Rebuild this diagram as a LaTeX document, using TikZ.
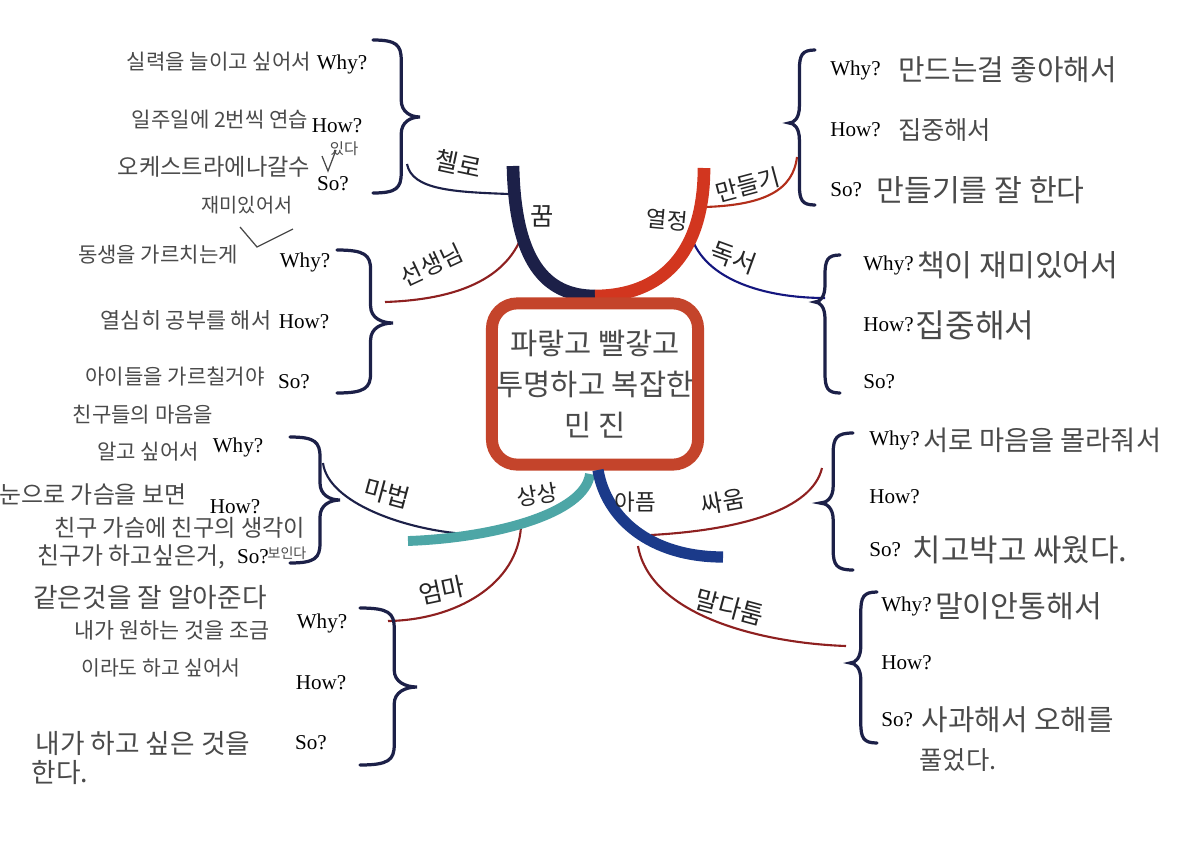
\documentclass[tikz,border=0pt]{standalone}
\usepackage{fontspec}
\setmainfont{Liberation Serif}
\newfontfamily\kr{Noto Sans CJK KR}
\usetikzlibrary{positioning}

\definecolor{navy}{HTML}{1C2048}
\definecolor{fire}{HTML}{D2361F}
\definecolor{seagreen}{HTML}{4DA6A6}
\definecolor{deepblue}{HTML}{1B3A8A}
\definecolor{boxred}{HTML}{C4442B}
\definecolor{wine}{HTML}{8E2020}
\definecolor{pencil}{HTML}{4A4A4A}

\begin{document}
\begin{tikzpicture}[x=0.025cm,y=-0.025cm,
    qa/.style={font=\fontsize{15}{17}\selectfont,inner sep=0pt},
    hand/.style={font=\kr\fontsize{#1}{#1}\selectfont,text=pencil,inner sep=0pt},
    hand/.default=15,
    tag/.style={font=\kr\fontsize{#1}{#1}\selectfont,text=black!85,inner sep=0pt},
    tag/.default=17,
    limb/.style={line width=9pt},
    twig/.style={line width=1.5pt},
    curly/.style={navy,line width=2.3pt,line cap=round}]
  \path[use as bounding box,fill=white] (0,0) rectangle (1204,863);

  % sub branches
  \coordinate (dream-a) at (509,194);
  \coordinate (dream-b) at (523,233);
  \coordinate (passion-a) at (705,207);
  \coordinate (passion-b) at (691,236);
  \coordinate (imagine-a) at (466,534);
  \coordinate (imagine-b) at (521,526);
  \coordinate (pain-a) at (651,535);
  \coordinate (pain-b) at (638,546);
  \coordinate (cello-end) at (407,164);
  \coordinate (teacher-end) at (385,302);
  \coordinate (making-end) at (797,157);
  \coordinate (reading-end) at (825,298);
  \coordinate (magic-end) at (323,463);
  \coordinate (mom-end) at (388,621);
  \coordinate (fight-end) at (822,468);
  \coordinate (quarrel-end) at (846,646);
  \draw[navy,twig] (dream-a) .. controls +(-55,-2) and +(5,26) .. (cello-end);
  \draw[wine,twig] (dream-b) .. controls +(-18,52) and +(60,-2) .. (teacher-end);
  \draw[fire!85!black,twig] (passion-a) .. controls +(60,-2) and +(-4,33) .. (making-end);
  \draw[navy!70!blue,twig] (passion-b) .. controls +(14,44) and +(-60,0) .. (reading-end);
  \draw[navy,twig] (imagine-a) .. controls +(-60,-4) and +(5,40) .. (magic-end);
  \draw[wine,twig] (imagine-b) .. controls +(-3,59) and +(67,-1) .. (mom-end);
  \draw[wine,twig] (pain-a) .. controls +(89,-5) and +(-10,42) .. (fight-end);
  \draw[wine,twig] (pain-b) .. controls +(12,69) and +(-86,-3) .. (quarrel-end);

  % main branches and centre
  \coordinate (crown) at (595,296);
  \coordinate (dream) at (513,166);
  \coordinate (passion) at (704,168);
  \draw[navy,limb] (dream) .. controls +(2,95) and +(-50,0) .. (crown);
  \draw[fire,limb] (crown) .. controls +(65,0) and +(0,87) .. (passion);
  \node[draw=boxred,line width=8.5pt,rounded corners=18pt,fill=white,
        minimum width=5.1cm,minimum height=4.03cm,align=center,
        font=\kr\fontsize{21}{29}\selectfont,text=pencil] (core) at (595,384)
        {파랗고 빨갛고\\투명하고 복잡한\\민 진};
  \coordinate (root) at (590,474);
  \coordinate (root2) at (598,470);
  \coordinate (imagine) at (408,541);
  \coordinate (pain) at (723,557);
  \draw[seagreen,line width=7pt] (root) .. controls +(-5,40) and +(85,-3) .. (imagine);
  \draw[deepblue,line width=8pt] (root2) .. controls +(8,48) and +(-73,0) .. (pain);

  % branch words
  \node[tag=18] (dream-tag) at (542,216) {꿈};
  \node[tag=16,rotate=-5] (passion-tag) at (667,220) {열정};
  \node[tag=16,rotate=10] (imagine-tag) at (537,495) {상상};
  \node[tag=16] (pain-tag) at (635,502) {아픔};
  \node[tag=18,rotate=-12] (cello) at (458,164) {첼로};
  \node[tag,rotate=25] (teacher) at (432,265) {선생님};
  \node[tag,rotate=15] (making) at (748,185) {만들기};
  \node[tag=18,rotate=-20] (reading) at (734,258) {독서};
  \node[tag=18,rotate=-15] (magic) at (387,493) {마법};
  \node[tag=18,rotate=12] (mom) at (442,590) {엄마};
  \node[tag,rotate=10] (fight) at (723,502) {싸움};
  \node[tag=18,rotate=-15] (quarrel) at (730,607) {말다툼};

  % braces: ends at x, tip at x+w, height ym
  \foreach \x/\ya/\yb/\ym/\w in {373/40/193/117/47,337/250/393/323/56,290/437/563/500/50,360/608/765/687/57,
                                 815/50/205/123/-26,840/255/393/302/-25,853/433/570/503/-33,877/592/743/663/-27} {
    \pgfmathsetmacro\xa{\x+0.6*\w}
    \draw[curly] (\x,\ya) .. controls ({\x+0.5*\w},\ya) and (\xa,{\ya+5}) .. (\xa,{\ya+20})
      -- (\xa,{\ym-17}) .. controls (\xa,{\ym-5}) and ({\x+0.8*\w},\ym) .. ({\x+\w},\ym)
      .. controls ({\x+0.8*\w},\ym) and (\xa,{\ym+5}) .. (\xa,{\ym+17})
      -- (\xa,{\yb-20}) .. controls (\xa,{\yb-5}) and ({\x+0.5*\w},\yb) .. (\x,\yb);
  }

  % cello
  \foreach \x/\y/\q/\n in {342/64/Why?/why,337/126/How?/how,333/184/So?/so}
    \node[qa] (cello-\n) at (\x,\y) {\q};
  \node[hand] (cello-t1) at (219,62) {실력을 늘이고 싶어서};
  \node[hand] (cello-t2) at (220,120) {일주일에 2번씩 연습};
  \node[hand=16.5] (cello-t3) at (214,167) {오케스트라에나갈수};
  \node[hand=11] (cello-t4) at (344,149) {있다};
  \draw[pencil,line width=.9pt] (322,156) -- (328,171) -- (336,150);
  \node[hand=14] (cello-t5) at (247,205) {재미있어서};
  \draw[pencil,line width=.9pt] (240,227) -- (257,247) -- (293,229);

  % teacher
  \foreach \x/\y/\q/\n in {305/262/Why?/why,304/322/How?/how,294/382/So?/so}
    \node[qa] (teacher-\n) at (\x,\y) {\q};
  \node[hand] (teacher-t1) at (158,255) {동생을 가르치는게};
  \node[hand=15.5] (teacher-t2) at (186,320) {열심히 공부를 해서};
  \node[hand] (teacher-t3) at (175,377) {아이들을 가르칠거야};

  % magic
  \foreach \x/\y/\q/\n in {238/447/Why?/why,235/507/How?/how,253/557/So?/so}
    \node[qa] (magic-\n) at (\x,\y) {\q};
  \node[hand] (magic-t1) at (143,415) {친구들의 마음을};
  \node[hand] (magic-t2) at (148,452) {알고 싶어서};
  \node[hand=17] (magic-t3) at (93,495) {눈으로 가슴을 보면};
  \node[hand=16.5] (magic-t4) at (180,528) {친구 가슴에 친구의 생각이};
  \node[hand=17] (magic-t5) at (131,557) {친구가 하고싶은거,};
  \node[hand=10] (magic-t6) at (287,553) {보인다};
  \node[hand=19] (magic-t7) at (150,597) {같은것을 잘 알아준다};

  % mom
  \foreach \x/\y/\q/\n in {322/623/Why?/why,321/683/How?/how,311/743/So?/so}
    \node[qa] (mom-\n) at (\x,\y) {\q};
  \node[hand=15.5] (mom-t1) at (172,630) {내가 원하는 것을 조금};
  \node[hand=14.5] (mom-t2) at (161,668) {이라도 하고 싶어서};
  \node[hand=19] (mom-t3) at (143,743) {내가 하고 싶은 것을};
  \node[hand=19] (mom-t4) at (60,772) {한다.};

  % making
  \node[qa,anchor=west] (making-why) at (830,70) {Why?};
  \node[qa,anchor=west] (making-how) at (830,130) {How?};
  \node[qa,anchor=west] (making-so) at (830,190) {So?};
  \node[hand=20.5,right=12pt of making-why] (making-t1) {만드는걸 좋아해서};
  \node[hand=18,right=12pt of making-how] (making-t2) {집중해서};
  \node[hand=21.5,right=10pt of making-so] (making-t3) {만들기를 잘 한다};

  % reading
  \node[qa,anchor=west] (reading-why) at (863,265) {Why?};
  \node[qa,anchor=west] (reading-how) at (863,325) {How?};
  \node[qa,anchor=west] (reading-so) at (863,382) {So?};
  \node[hand=21.5,right=2pt of reading-why] (reading-t1) {책이 재미있어서};
  \node[hand=23,right=1pt of reading-how] (reading-t2) {집중해서};

  % fight
  \node[qa,anchor=west] (fight-why) at (869,440) {Why?};
  \node[qa,anchor=west] (fight-how) at (869,497) {How?};
  \node[qa,anchor=west] (fight-so) at (869,550) {So?};
  \node[hand=19.4,right=2pt of fight-why] (fight-t1) {서로 마음을 몰라줘서};
  \node[hand=22,right=8pt of fight-so] (fight-t2) {치고박고 싸웠다.};

  % quarrel
  \node[qa,anchor=west] (quarrel-why) at (881,606) {Why?};
  \node[qa,anchor=west] (quarrel-how) at (881,663) {How?};
  \node[qa,anchor=west] (quarrel-so) at (881,720) {So?};
  \node[hand=21.5,right=2pt of quarrel-why] (quarrel-t1) {말이안통해서};
  \node[hand=20.5,right=6pt of quarrel-so] (quarrel-t2) {사과해서 오해를};
  \node[hand=18] (quarrel-t3) at (958,760) {풀었다.};
\end{tikzpicture}
\end{document}
